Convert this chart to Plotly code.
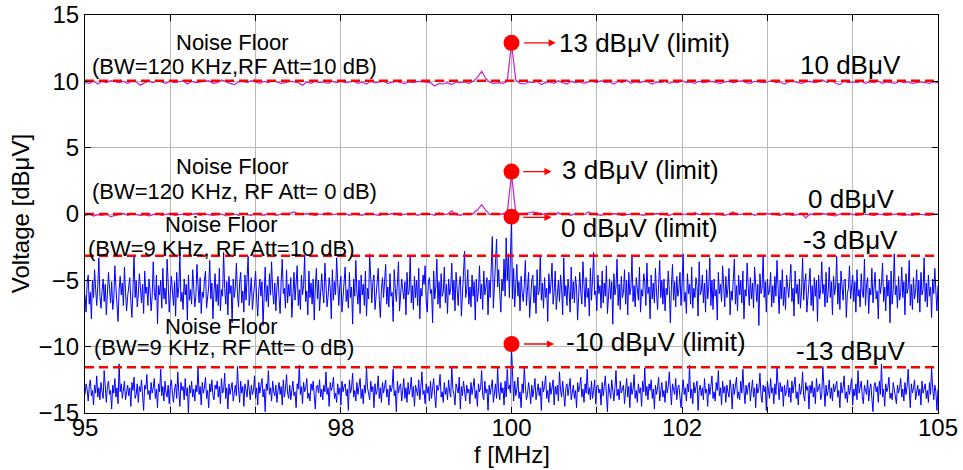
import plotly.graph_objects as go

# ---------------- data ----------------
f_start, f_stop = 95.0, 105.0

# Noise floor, BW=120 kHz, RF Att=10 dB (201 samples, 95..105 MHz)
nf_120k_att10 = [
    9.9, 9.85, 10.0, 9.8, 10.0, 9.9, 10.05, 9.95, 9.9, 10.0, 9.85, 10.0, 9.95, 9.7, 9.9, 10.0, 9.9, 10.05, 9.95, 9.85,
    10.0, 9.9, 9.95, 10.05, 9.8, 10.0, 9.9, 9.95, 10.0, 10.05, 9.85, 9.9, 10.1, 9.95, 9.85, 9.75, 9.95, 10.0, 9.9, 10.05,
    9.95, 9.85, 10.0, 9.9, 10.05, 9.95, 9.85, 9.9, 10.0, 9.95, 9.9, 9.7, 9.95, 9.85, 10.0, 9.9, 9.95, 9.85, 10.0, 9.9,
    10.0, 9.9, 9.95, 10.0, 9.85, 9.95, 9.8, 10.0, 9.9, 9.95, 10.0, 9.85, 9.95, 10.0, 9.9, 9.85, 9.95, 9.9, 10.0, 9.95,
    9.95, 9.9, 9.65, 9.85, 9.8, 9.9, 9.75, 9.95, 9.9, 9.95, 9.85, 10.0, 10.3, 10.75, 10.2, 9.9, 9.85, 9.9, 9.85, 10.0,
    12.85,
    10.1, 9.85, 9.8, 9.95, 9.9, 10.0, 9.75, 9.9, 9.95, 9.85, 10.05, 9.9, 9.8, 10.0, 9.9, 9.95, 9.85, 9.95, 10.0, 9.9,
    10.05, 9.9, 9.95, 9.8, 10.0, 9.9, 10.1, 9.85, 9.95, 9.9, 10.0, 9.95, 9.8, 9.95, 9.9, 10.0, 9.85, 9.95, 9.9, 10.05,
    9.9, 9.95, 9.85, 10.0, 9.9, 9.95, 10.0, 9.9, 9.85, 9.95, 10.0, 9.9, 9.95, 10.05, 9.9, 9.85, 10.0, 9.95, 9.9, 9.95,
    10.05, 9.9, 9.95, 9.8, 9.95, 10.0, 9.9, 9.85, 9.95, 10.0, 9.9, 9.95, 10.1, 9.9, 10.05, 9.85, 9.75, 10.0, 9.9, 9.95,
    9.9, 10.0, 9.85, 9.95, 9.9, 10.0, 9.85, 9.95, 9.9, 9.85, 10.0, 9.9, 9.95, 9.85, 9.9, 9.95, 9.9, 9.85, 9.95, 9.9,
]

# Noise floor, BW=120 kHz, RF Att=0 dB (201 samples)
nf_120k_att0 = [
    -0.1, 0.0, -0.15, -0.05, -0.1, 0.0, -0.2, -0.1, -0.05, 0.05, -0.1, 0.0, -0.05, -0.1, -0.05, -0.15, -0.05, 0.05, -0.1, -0.05,
    0.05, -0.1, -0.05, 0.0, -0.1, -0.05, 0.05, -0.1, 0.0, -0.05, -0.1, -0.05, 0.0, -0.15, -0.05, 0.0, -0.1, 0.05, -0.05, -0.1,
    0.0, -0.05, -0.1, 0.05, -0.05, -0.1, 0.0, -0.05, 0.05, 0.15, 0.0, -0.05, 0.05, -0.05, -0.1, 0.0, -0.05, 0.1, -0.05, 0.0,
    -0.05, 0.05, -0.1, 0.0, -0.05, -0.1, 0.05, 0.0, -0.05, -0.1, 0.0, -0.05, 0.05, -0.05, -0.1, 0.0, -0.05, 0.05, -0.1, 0.0,
    -0.05, 0.0, -0.1, 0.1, -0.05, 0.0, 0.25, -0.05, -0.1, 0.0, -0.05, 0.05, 0.3, 0.7, 0.25, -0.05, 0.0, -0.05, 0.05, 0.1,
    3.0,
    0.1, -0.05, 0.0, 0.05, 0.15, 0.1, -0.05, 0.05, 0.0, -0.05, 0.1, -0.05, 0.0, -0.1, 0.05, 0.0, -0.05, 0.15, 0.0, -0.05,
    -0.1, 0.0, -0.05, 0.05, 0.0, -0.1, -0.05, 0.0, 0.05, -0.05, -0.1, 0.0, -0.05, 0.05, 0.0, -0.05, -0.1, 0.0, 0.05, -0.05,
    0.0, -0.05, 0.1, -0.05, 0.0, -0.05, 0.05, 0.0, -0.05, -0.1, 0.0, 0.15, -0.05, 0.0, -0.05, 0.05, -0.1, 0.0, -0.05, 0.05,
    0.0, -0.05, -0.1, 0.05, 0.0, -0.1, -0.05, 0.05, -0.3, 0.0, -0.05, 0.0, 0.05, -0.05, -0.1, -0.15, 0.0, -0.05, 0.05, -0.05,
    -0.1, -0.05, 0.0, -0.05, -0.1, 0.0, -0.05, -0.1, -0.05, 0.0, -0.05, -0.1, -0.05, -0.1, 0.0, -0.05, -0.05, -0.1, 0.0, 0.0,
]

# Noise floor, BW=9 kHz, RF Att=10 dB (801 samples)
nf_9k_att10 = [
    -6.1, -7.4, -5.2, -4.6, -6.8, -5.9, -7.9, -5.0, -6.3, -4.2, -5.7, -6.9, -5.4, -3.3, -6.2, -7.1, -5.8, -4.9, -6.6, -5.3,
    -7.6, -6.0, -4.4, -5.6, -6.7, -5.1, -7.2, -6.4, -3.9, -5.5, -6.8, -8.1, -5.7, -4.7, -6.1, -5.2, -6.9, -4.0, -5.9, -7.3,
    -6.2, -5.4, -4.8, -6.6, -7.8, -5.6, -3.1, -6.3, -5.0, -7.0, -6.1, -4.5, -5.8, -6.7, -5.3, -7.5, -4.3, -6.0, -5.5, -6.9,
    -4.9, -5.7, -7.3, -6.2, -3.6, -5.9, -6.5, -4.6, -8.3, -5.4, -6.1, -5.0, -7.1, -4.1, -6.4, -5.6, -6.8, -3.4, -5.2, -7.4,
    -6.0, -4.7, -5.8, -6.9, -5.1, -7.7, -4.4, -6.3, -5.5, -3.0, -6.6, -5.9, -7.2, -4.9, -6.1, -5.3, -8.0, -4.6, -6.5, -5.7,
    -6.8, -4.2, -5.6, -7.0, -6.2, -3.8, -5.4, -6.7, -4.8, -7.5, -5.9, -6.3, -5.0, -4.3, -7.1, -6.0, -5.5, -3.5, -6.4, -5.2,
    -7.9, -5.8, -4.5, -6.6, -5.3, -6.9, -4.1, -7.3, -5.7, -6.2, -2.9, -5.6, -6.8, -5.1, -7.6, -4.7, -6.0, -5.4, -8.2, -4.9,
    -6.3, -5.5, -3.7, -6.1, -7.0, -5.2, -4.4, -6.7, -5.8, -7.4, -4.6, -6.5, -5.0, -3.2, -6.9, -5.6, -4.8, -7.2, -6.0, -5.3,
    -4.3, -6.4, -7.7, -5.7, -4.9, -6.2, -5.1, -8.4, -5.9, -4.0, -6.6, -5.4, -7.0, -4.5, -6.1, -3.6, -5.8, -6.8, -5.2, -7.3,
    -5.5, -4.7, -6.3, -7.5, -5.0, -3.4, -6.0, -5.6, -7.1, -4.2, -6.7, -5.3, -6.2, -4.8, -7.8, -5.9, -4.4, -6.5, -5.1, -3.9,
    -6.9, -5.7, -7.2, -4.6, -6.1, -5.4, -3.1, -6.6, -5.8, -7.6, -4.3, -6.3, -5.2, -6.8, -4.9, -8.0, -5.5, -4.1, -6.4, -5.0,
    -7.3, -6.0, -4.5, -5.9, -6.7, -3.7, -5.3, -7.0, -6.2, -4.8, -5.6, -7.9, -4.2, -6.5, -5.1, -6.1, -3.3, -5.8, -6.9, -5.4,
    -4.7, -7.4, -6.0, -5.2, -4.0, -6.6, -5.7, -7.1, -4.4, -6.3, -5.5, -8.3, -4.9, -6.2, -3.5, -5.9, -6.8, -5.0, -7.5, -4.6,
    -6.1, -5.3, -6.9, -4.3, -7.7, -5.6, -6.4, -3.0, -5.8, -6.7, -5.1, -4.6, -7.2, -6.0, -5.4, -4.1, -6.5, -7.8, -5.7, -4.8,
    -6.3, -5.0, -3.8, -6.8, -5.5, -7.0, -4.5, -6.2, -5.9, -8.1, -4.2, -5.6, -6.6, -5.2, -3.6, -7.3, -6.0, -4.9, -5.7, -6.4,
    -5.1, -7.6, -4.4, -6.1, -5.8, -3.2, -6.7, -5.4, -7.2, -4.7, -6.3, -5.0, -6.9, -4.1, -7.9, -5.6, -6.2, -4.6, -5.3, -3.9,
    -6.6, -7.4, -5.2, -4.8, -6.0, -5.7, -8.2, -4.3, -6.4, -5.5, -3.4, -6.8, -5.1, -7.1, -4.5, -6.2, -5.9, -4.0, -6.7, -5.3,
    -7.5, -4.9, -6.1, -5.6, -3.7, -6.5, -5.0, -7.3, -4.4, -5.8, -6.9, -5.2, -4.7, -7.7, -6.0, -5.4, -2.8, -6.3, -5.7, -4.2,
    -6.8, -5.5, -7.0, -4.6, -6.2, -5.1, -8.0, -4.9, -6.6, -5.8, -3.9, -6.4, -5.3, -7.2, -4.3, -6.1, -5.6, -4.8, -7.6, -5.0,
    -6.3, -4.4, -1.7, -7.1, -5.2, -3.6, -1.9, -5.5, -4.2, -6.0, -7.4, -4.9, -5.8, -3.4, -6.2, -1.8, -5.0, -3.0, -6.3, -3.2,
    -0.3,
    -6.4, -4.1, -7.0, -5.6, -3.8, -6.2, -5.1, -7.3, -4.7, -5.9, -6.6, -5.3, -3.5, -6.9, -5.7, -4.4, -7.8, -6.0, -5.0, -4.6,
    -6.7, -5.4, -7.5, -4.2, -6.1, -5.8, -3.1, -6.5, -5.2, -7.1, -4.8, -6.3, -5.6, -8.1, -4.5, -6.0, -5.3, -3.7, -6.8, -5.9,
    -4.3, -7.2, -6.1, -5.0, -6.6, -4.6, -5.7, -7.6, -3.3, -6.2, -5.4, -6.9, -4.9, -5.8, -7.4, -4.0, -6.4, -5.1, -6.7, -4.7,
    -5.5, -8.0, -6.2, -4.4, -5.9, -6.8, -3.6, -5.3, -7.0, -4.8, -6.3, -5.6, -7.7, -4.1, -6.5, -5.0, -2.9, -6.1, -5.8, -7.3,
    -4.6, -6.0, -5.4, -7.1, -4.3, -6.7, -5.2, -6.2, -3.9, -7.5, -5.7, -4.9, -6.4, -5.1, -8.3, -4.5, -6.1, -5.5, -3.4, -6.9,
    -5.3, -7.2, -4.7, -6.3, -5.9, -4.2, -6.8, -5.0, -7.6, -4.4, -6.1, -5.6, -3.2, -6.6, -5.4, -7.0, -4.8, -5.8, -6.5, -4.0,
    -7.4, -5.7, -6.2, -4.5, -5.1, -6.9, -3.7, -6.0, -5.5, -7.9, -4.6, -6.4, -5.2, -6.7, -4.1, -5.9, -7.2, -5.3, -3.5, -6.3,
    -5.0, -6.8, -4.9, -7.3, -5.6, -6.1, -4.3, -5.8, -8.2, -5.4, -3.8, -6.5, -5.1, -7.0, -4.7, -6.2, -5.7, -4.4, -6.9, -5.2,
    -3.0, -6.6, -5.9, -7.5, -4.5, -6.0, -5.3, -6.8, -4.0, -7.1, -5.6, -6.3, -4.8, -5.4, -7.7, -3.6, -6.1, -5.8, -4.6, -6.7,
    -5.2, -7.4, -4.2, -6.4, -5.5, -3.3, -6.9, -5.0, -7.2, -4.9, -6.2, -5.7, -8.0, -4.4, -6.0, -5.3, -6.6, -3.9, -5.9, -7.0,
    -4.7, -6.3, -5.6, -4.1, -7.6, -5.8, -6.5, -5.1, -3.4, -6.8, -5.4, -7.3, -4.6, -6.1, -5.0, -6.7, -4.3, -7.9, -5.7, -6.2,
    -3.7, -5.5, -6.9, -4.8, -6.4, -5.2, -7.1, -4.0, -5.9, -6.6, -5.3, -8.4, -4.5, -6.0, -5.6, -3.1, -6.3, -5.1, -7.4, -4.9,
    -6.1, -5.8, -4.4, -7.0, -5.4, -6.7, -4.7, -6.2, -3.5, -5.7, -7.5, -5.0, -6.4, -4.2, -6.9, -5.5, -7.2, -4.6, -5.9, -6.3,
    -5.1, -3.8, -6.6, -5.6, -7.7, -4.3, -6.0, -5.3, -6.8, -4.9, -7.1, -5.8, -3.3, -6.5, -5.2, -4.5, -7.4, -6.1, -5.5, -4.1,
    -6.9, -5.4, -7.3, -4.8, -6.2, -5.0, -8.1, -4.6, -6.4, -5.7, -3.6, -6.0, -5.3, -7.0, -4.4, -6.7, -5.9, -4.0, -6.3, -5.1,
    -7.6, -4.7, -6.1, -5.5, -3.2, -6.8, -5.2, -7.2, -4.3, -5.8, -6.5, -5.0, -4.9, -7.8, -6.0, -5.6, -3.9, -6.4, -5.4, -4.6,
    -6.6, -5.1, -7.4, -4.2, -6.2, -5.7, -7.0, -4.5, -5.9, -6.3, -3.4, -6.9, -5.3, -4.8, -7.5, -5.6, -6.1, -4.1, -6.7, -5.0,
    -4.4, -6.4, -5.8, -7.9, -4.9, -6.0, -5.2, -3.7, -6.6, -5.5, -7.3, -4.6, -6.2, -5.0, -8.2, -4.3, -6.8, -5.7, -3.0, -6.1,
    -5.4, -7.1, -4.7, -6.5, -5.9, -4.0, -6.3, -5.1, -7.6, -4.5, -6.0, -5.6, -3.5, -6.9, -5.3, -7.2, -4.8, -6.4, -5.8, -4.2,
    -6.7, -5.0, -7.4, -4.4, -6.1, -5.7, -3.3, -6.6, -5.2, -7.0, -4.6, -6.2, -5.5, -7.8, -4.9, -6.0, -4.1, -5.8, -7.3, -5.4,
]

# Noise floor, BW=9 kHz, RF Att=0 dB (801 samples)
nf_9k_att0 = [
    -13.6, -12.8, -13.2, -14.1, -13.0, -12.5, -13.7, -13.3, -14.4, -12.9, -13.5, -12.2, -13.8, -13.1, -14.0, -12.7, -13.4, -13.9, -11.8, -13.2,
    -14.2, -13.0, -12.6, -13.6, -13.3, -14.7, -12.9, -13.5, -12.4, -13.8, -13.1, -14.3, -11.3, -13.4, -12.8, -13.9, -13.2, -12.6, -14.0, -13.5,
    -12.9, -13.7, -13.1, -14.5, -12.7, -13.3, -12.3, -13.9, -13.6, -12.8, -14.2, -13.0, -13.4, -12.5, -13.8, -14.8, -12.9, -13.2, -12.1, -13.6,
    -13.3, -14.0, -12.7, -13.5, -13.1, -12.4, -13.9, -13.2, -14.6, -12.8, -13.4, -11.7, -13.7, -13.0, -14.1, -12.6, -13.5, -13.8, -12.9, -14.3,
    -13.0, -12.5, -13.6, -14.2, -13.2, -12.8, -13.9, -11.9, -13.4, -14.5, -12.7, -13.3, -13.0, -14.0, -12.4, -13.7, -13.1, -15.0, -12.9, -13.5,
    -12.6, -13.8, -13.2, -14.1, -12.9, -13.4, -11.6, -13.6, -13.0, -14.4, -12.7, -13.5, -13.1, -12.3, -13.9, -13.3, -14.6, -12.8, -13.4, -12.5,
    -13.7, -14.0, -12.9, -13.2, -12.6, -13.8, -13.0, -14.3, -12.4, -13.5, -13.3, -12.0, -13.9, -13.1, -14.7, -12.8, -13.6, -13.2, -12.7, -14.1,
    -13.4, -12.9, -13.7, -11.5, -13.2, -14.2, -12.6, -13.5, -13.0, -14.5, -12.8, -13.4, -13.8, -12.5, -13.1, -14.0, -12.9, -13.6, -13.3, -12.2,
    -13.9, -13.1, -14.4, -12.7, -13.5, -13.0, -12.4, -13.8, -13.2, -14.9, -12.8, -13.3, -11.8, -13.6, -13.1, -14.1, -12.6, -13.4, -13.7, -12.9,
    -14.2, -13.3, -12.7, -13.6, -13.0, -14.4, -12.5, -13.8, -13.2, -12.1, -13.5, -13.9, -12.9, -14.0, -13.1, -12.6, -13.7, -13.4, -14.6, -12.8,
    -13.2, -11.4, -13.6, -13.0, -14.3, -12.7, -13.4, -13.1, -12.4, -13.9, -13.5, -14.1, -12.8, -13.3, -12.6, -13.7, -14.7, -13.0, -12.9, -13.5,
    -12.5, -13.8, -13.2, -14.0, -12.9, -13.4, -11.9, -13.6, -13.1, -14.5, -12.7, -13.3, -13.0, -12.3, -13.9, -13.5, -14.2, -12.8, -13.6, -13.1,
    -14.4, -12.6, -13.4, -13.0, -12.8, -13.7, -13.2, -14.8, -12.5, -13.5, -13.1, -12.0, -13.8, -13.3, -14.1, -12.7, -13.6, -13.0, -12.4, -13.9,
    -13.2, -14.3, -12.9, -13.5, -11.6, -13.1, -13.7, -14.0, -12.6, -13.4, -13.0, -14.6, -12.8, -13.6, -13.3, -12.2, -13.9, -13.1, -14.2, -12.7,
    -13.5, -13.0, -12.5, -13.8, -13.2, -14.4, -12.9, -13.4, -13.1, -11.7, -13.7, -13.3, -14.9, -12.6, -13.5, -13.0, -12.8, -14.1, -13.4, -12.4,
    -13.9, -13.1, -14.2, -12.7, -13.6, -13.2, -12.3, -13.8, -13.0, -14.5, -12.9, -13.4, -13.7, -12.5, -14.0, -13.1, -11.9, -13.6, -13.3, -14.3,
    -12.8, -13.5, -13.0, -14.1, -12.6, -13.9, -13.2, -12.4, -13.7, -14.6, -12.9, -13.3, -13.0, -12.1, -13.8, -13.4, -14.2, -12.7, -13.6, -13.1,
    -14.0, -12.5, -13.4, -13.8, -11.5, -13.2, -13.6, -14.4, -12.8, -13.1, -13.5, -12.3, -14.7, -13.0, -13.7, -12.6, -13.3, -14.1, -12.9, -13.5,
    -13.2, -14.3, -12.7, -13.6, -13.0, -12.4, -13.9, -13.3, -14.5, -12.8, -13.4, -13.1, -11.8, -13.7, -14.0, -12.6, -13.5, -13.2, -14.8, -12.9,
    -13.6, -13.0, -12.5, -14.2, -13.3, -12.8, -13.9, -11.6, -13.4, -14.0, -12.7, -13.5, -13.1, -14.4, -12.6, -13.8, -11.7, -13.2, -12.9, -13.5,
    -10.0,
    -13.1, -14.1, -12.6, -13.7, -13.2, -12.3, -13.9, -13.4, -14.6, -12.8, -13.5, -11.5, -13.0, -14.0, -13.6, -12.7, -13.3, -14.3, -12.9, -13.8,
    -13.2, -12.4, -14.0, -13.5, -12.8, -13.7, -13.1, -14.8, -12.6, -13.4, -13.0, -12.2, -13.9, -13.3, -14.2, -12.7, -13.6, -13.1, -12.5, -14.4,
    -13.0, -13.6, -12.9, -14.1, -11.9, -13.3, -13.8, -12.6, -13.4, -14.5, -13.1, -12.8, -13.7, -13.2, -12.4, -14.0, -13.5, -12.9, -13.9, -13.3,
    -14.6, -12.7, -13.4, -13.0, -12.3, -13.8, -13.2, -14.2, -12.8, -13.5, -11.7, -13.6, -13.1, -14.0, -12.6, -13.9, -13.3, -12.5, -14.3, -13.0,
    -12.9, -13.5, -13.2, -14.4, -12.7, -13.7, -13.0, -12.2, -13.6, -14.9, -12.8, -13.3, -13.9, -12.5, -13.4, -14.1, -13.1, -11.8, -13.7, -13.2,
    -14.0, -12.6, -13.5, -13.1, -12.9, -14.3, -13.4, -12.4, -13.8, -13.0, -14.6, -12.7, -13.6, -13.2, -12.1, -13.9, -13.3, -14.2, -12.8, -13.5,
    -13.1, -14.5, -12.6, -13.4, -11.6, -13.7, -13.0, -14.0, -12.8, -13.3, -12.5, -13.9, -13.2, -14.7, -12.9, -13.6, -13.1, -12.3, -14.1, -13.4,
    -12.7, -13.8, -13.3, -14.2, -12.6, -13.5, -13.0, -11.9, -13.7, -14.4, -12.8, -13.2, -13.6, -12.4, -14.0, -13.1, -12.9, -13.8, -14.6, -13.3,
    -12.5, -13.6, -13.1, -14.1, -12.8, -13.4, -11.4, -13.9, -13.2, -14.3, -12.7, -13.5, -13.0, -12.6, -14.8, -13.3, -12.9, -13.7, -13.1, -14.0,
    -12.4, -13.5, -13.2, -14.5, -12.8, -13.6, -13.0, -12.2, -13.9, -13.4, -14.1, -12.7, -13.3, -11.8, -13.7, -13.1, -14.4, -12.6, -13.5, -13.0,
    -14.2, -12.9, -13.4, -13.8, -12.5, -13.2, -14.7, -12.8, -13.6, -13.1, -12.3, -13.9, -13.4, -14.0, -12.6, -13.5, -11.7, -13.3, -14.3, -12.9,
    -13.6, -13.0, -12.7, -14.1, -13.3, -12.5, -13.8, -13.1, -14.6, -12.8, -13.5, -13.2, -12.0, -13.7, -14.2, -12.9, -13.4, -13.0, -14.8, -12.6,
    -13.3, -13.9, -12.4, -13.5, -13.1, -14.3, -12.8, -13.6, -11.6, -13.2, -14.0, -12.7, -13.4, -13.0, -14.5, -12.9, -13.7, -13.3, -12.5, -13.8,
    -13.1, -14.2, -12.6, -13.5, -13.0, -12.3, -13.9, -13.4, -14.4, -12.8, -13.6, -13.2, -11.9, -13.7, -14.1, -12.7, -13.3, -13.0, -14.7, -12.9,
    -13.5, -12.6, -13.8, -13.1, -14.3, -12.4, -13.4, -13.0, -12.8, -14.0, -13.6, -11.5, -13.2, -14.5, -12.9, -13.7, -13.3, -12.5, -13.9, -13.1,
    -14.1, -12.8, -13.4, -13.0, -12.6, -13.8, -13.3, -14.6, -12.7, -13.5, -13.1, -12.2, -13.9, -13.4, -14.2, -12.9, -13.6, -13.0, -12.4, -14.4,
    -13.2, -13.7, -12.8, -14.0, -11.8, -13.5, -13.1, -12.6, -13.8, -14.3, -12.9, -13.3, -13.6, -12.5, -14.1, -13.2, -12.8, -13.9, -14.9, -13.0,
    -12.7, -13.4, -13.0, -14.2, -12.6, -13.6, -11.3, -13.8, -13.2, -14.5, -12.8, -13.4, -13.1, -12.3, -13.9, -13.5, -14.0, -12.7, -13.3, -13.7,
    -14.3, -12.9, -13.5, -13.1, -12.4, -13.8, -13.2, -14.1, -12.7, -13.6, -13.0, -11.7, -13.4, -14.6, -12.8, -13.5, -13.1, -12.5, -14.0, -13.3,
    -12.9, -13.7, -13.2, -14.4, -12.6, -13.5, -13.0, -12.8, -13.9, -13.3, -14.2, -12.7, -13.6, -11.6, -13.1, -14.0, -12.9, -13.4, -14.8, -13.2,
]

# dashed reference levels (as drawn) and their labels
ref_levels = [10.05, 0.0, -3.15, -11.55]
ref_labels = ["10 dB\u03bcV", "0 dB\u03bcV", "-3 dB\u03bcV", "-13 dB\u03bcV"]
ref_label_y = [11.2, 1.1, -1.95, -10.3]

# limit markers at 100 MHz
limit_f = 100.0
limit_levels = [12.9, 3.2, -0.2, -9.8]
limit_labels = ["13 dB\u03bcV (limit)", "3 dB\u03bcV (limit)", "0 dB\u03bcV (limit)", "-10 dB\u03bcV (limit)"]
limit_label_x = [100.53, 100.57, 100.56, 100.62]
limit_label_y = [12.9, 3.3, -1.05, -9.65]
arrow_tail = [100.13, 100.12, 100.12, 100.13]
arrow_head = [100.52, 100.47, 100.47, 100.5]
arrow_y = [12.9, 3.2, -0.25, -9.8]

# noise floor captions
captions = [
    ("Noise Floor", 96.72, 12.95), ("(BW=120 KHz,RF Att=10 dB)", 96.75, 11.15),
    ("Noise Floor", 96.72, 3.6), ("(BW=120 KHz, RF Att= 0 dB)", 96.75, 1.7),
    ("Noise Floor", 96.6, -0.8), ("(BW=9 KHz, RF Att=10 dB)", 96.6, -2.6),
    ("Noise Floor", 96.6, -8.5), ("(BW=9 KHz, RF Att= 0 dB)", 96.63, -10.1),
]

x_ticks = [95, 96, 97, 98, 99, 100, 101, 102, 103, 104, 105]
x_ticktext = ["95", "", "", "98", "", "100", "", "102", "", "", "105"]
y_ticks = [-15, -10, -5, 0, 5, 10, 15]

# ---------------- figure ----------------
def grid(n):
    return [f_start + (f_stop - f_start) * i / (n - 1) for i in range(n)]

FONT = "Liberation Sans, Arial, sans-serif"
fig = go.Figure()

for ys, col, w in [(nf_9k_att10, "#0000ff", 1.0), (nf_9k_att0, "#0000ff", 1.0),
                   (nf_120k_att10, "#c51fc5", 1.2), (nf_120k_att0, "#c51fc5", 1.2)]:
    fig.add_trace(go.Scatter(x=grid(len(ys)), y=ys, mode="lines",
                             line=dict(color=col, width=w), showlegend=False, hoverinfo="skip"))

for lv in ref_levels:
    fig.add_trace(go.Scatter(x=[f_start, f_stop], y=[lv, lv], mode="lines",
                             line=dict(color="#ff0000", width=2.5, dash="9px,5px"),
                             showlegend=False, hoverinfo="skip"))

fig.add_trace(go.Scatter(x=[limit_f] * len(limit_levels), y=limit_levels, mode="markers",
                         marker=dict(color="#ff0000", size=16), showlegend=False, hoverinfo="skip"))

annotations = []
for txt, xx, yy in captions:
    annotations.append(dict(x=xx, y=yy, xref="x", yref="y", text=txt, showarrow=False,
                            font=dict(family=FONT, size=22, color="black"),
                            xanchor="center", yanchor="middle"))
for txt, yy in zip(ref_labels, ref_label_y):
    annotations.append(dict(x=103.98, y=yy, xref="x", yref="y", text=txt, showarrow=False,
                            font=dict(family=FONT, size=26, color="black"),
                            xanchor="center", yanchor="middle"))
for txt, xx, yy in zip(limit_labels, limit_label_x, limit_label_y):
    annotations.append(dict(x=xx, y=yy, xref="x", yref="y", text=txt, showarrow=False,
                            font=dict(family=FONT, size=26, color="black"),
                            xanchor="left", yanchor="middle"))
for t, h, yy in zip(arrow_tail, arrow_head, arrow_y):
    annotations.append(dict(x=h, y=yy, ax=t, ay=yy, xref="x", yref="y", axref="x", ayref="y",
                            text="", showarrow=True, arrowhead=2, arrowsize=1.1,
                            arrowwidth=1.3, arrowcolor="#ff0000"))

annotations.append(dict(x=-0.076, y=0.5, xref="paper", yref="paper", text="Voltage [dB\u03bcV]",
                        textangle=-90, showarrow=False, font=dict(family=FONT, size=24, color="black"),
                        xanchor="center", yanchor="middle"))
annotations.append(dict(x=0.5, y=-0.105, xref="paper", yref="paper", text="f [MHz]",
                        showarrow=False, font=dict(family=FONT, size=24, color="black"),
                        xanchor="center", yanchor="middle"))

fig.update_layout(
    width=963, height=470,
    margin=dict(l=85, r=25, t=15, b=57, autoexpand=False),
    paper_bgcolor="white", plot_bgcolor="white",
    font=dict(family=FONT, color="black"),
    annotations=annotations,
    xaxis=dict(range=[f_start, f_stop], tickvals=x_ticks, ticktext=x_ticktext, automargin=False,
               showgrid=True, gridcolor="#b8b8b8", gridwidth=1,
               showline=True, linecolor="black", linewidth=1, mirror="ticks",
               ticks="inside", ticklen=6, tickcolor="black", ticklabelstandoff=-7,
               tickfont=dict(family=FONT, size=24, color="black"), zeroline=False),
    yaxis=dict(range=[-15, 15], tickvals=y_ticks, automargin=False,
               showgrid=True, gridcolor="#b8b8b8", gridwidth=1,
               showline=True, linecolor="black", linewidth=1, mirror="ticks",
               ticks="inside", ticklen=6, tickcolor="black",
               tickfont=dict(family=FONT, size=24, color="black"), zeroline=False),
)

fig.write_html("out.html", config={"displayModeBar": False},
               post_script="document.body.style.margin='0px';")
